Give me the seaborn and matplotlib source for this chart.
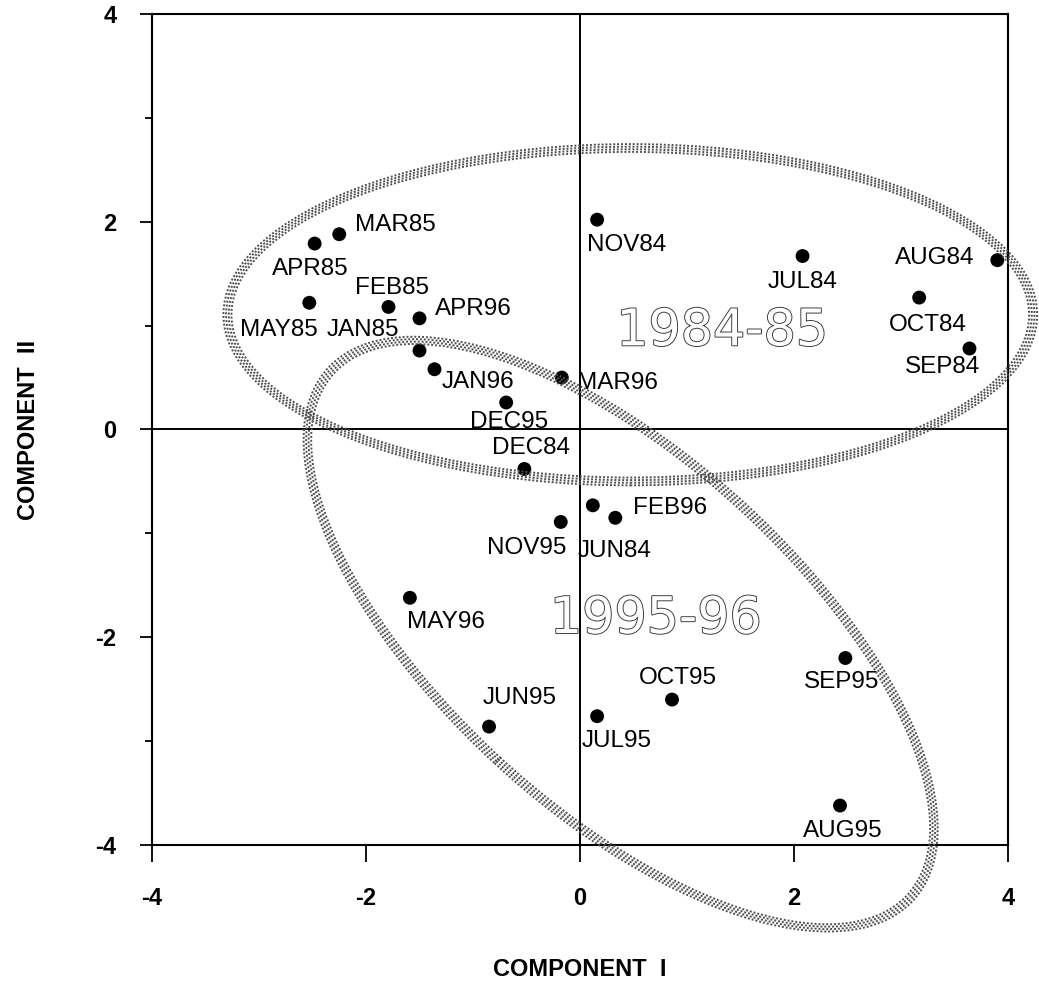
import matplotlib
matplotlib.use("Agg")
import matplotlib.pyplot as plt
import matplotlib.patheffects as pe
from matplotlib.patches import Ellipse
import seaborn as sns
import pandas as pd

# principal component scores by month
months = ["MAR85", "APR85", "FEB85", "MAY85", "JAN85", "APR96", "JAN96", "DEC95",
          "MAR96", "DEC84", "NOV84", "JUL84", "AUG84", "OCT84", "SEP84", "NOV95",
          "JUN84", "FEB96", "MAY96", "JUN95", "OCT95", "JUL95", "SEP95", "AUG95"]
comp1 = [-2.25, -2.48, -1.79, -2.53, -1.50, -1.50, -1.36, -0.69,
         -0.17, -0.52, 0.16, 2.08, 3.90, 3.17, 3.64, -0.18,
         0.12, 0.33, -1.59, -0.85, 0.86, 0.16, 2.48, 2.43]
comp2 = [1.88, 1.79, 1.18, 1.22, 0.76, 1.07, 0.58, 0.26,
         0.50, -0.38, 2.02, 1.67, 1.63, 1.27, 0.78, -0.89,
         -0.73, -0.85, -1.62, -2.86, -2.60, -2.76, -2.20, -3.62]

# label placement (pixels from the dot: left edge, baseline)
label_offsets = [(16, 3), (-43, -31), (-33, 13), (-69, -33), (-93, 15), (15, 3),
                 (7, -19), (-36, -26), (15, -11), (-32, 15), (-10, -31), (-35, -32),
                 (-102, -4), (-30, -33), (-65, -25), (-74, -32), (-15, -52), (18, 4),
                 (-3, -30), (-6, 23), (-33, 16), (-15, -31), (-41, -30), (-37, -31)]

sns.set_theme(style="ticks")
plt.rcParams['font.family'] = ['Liberation Sans', 'DejaVu Sans']
plt.rcParams['axes.unicode_minus'] = False

df = pd.DataFrame({"month": months, "c1": comp1, "c2": comp2})

fig = plt.figure(figsize=(10.39, 9.88), dpi=100)
ax = fig.add_axes([152 / 1039, 143 / 988, 856 / 1039, 831 / 988])

sns.scatterplot(data=df, x="c1", y="c2", color="black", s=100,
                edgecolor="none", ax=ax, zorder=3, clip_on=False, legend=False)

for m, x, y, (dx, dy) in zip(months, comp1, comp2, label_offsets):
    ax.annotate(m, (x, y), xytext=(dx, dy), textcoords="offset pixels",
                fontsize=17.5, ha="left", va="baseline", color="black", zorder=4)

ax.axhline(0, color="black", lw=1.4, zorder=2)
ax.axvline(0, color="black", lw=1.4, zorder=2)


# halftone-looking bands for the two groups
def band(cx, cy, w, h, ang):
    for k in (-1.5, -0.5, 0.5, 1.5):
        ax.add_patch(Ellipse((cx, cy), w + 0.05 * k, h + 0.05 * k, angle=ang,
                             fill=False, edgecolor="#505050", lw=1.4,
                             linestyle=(0, (1, 1)), clip_on=False, zorder=5))


band(0.47, 1.105, 7.53, 3.21, 0)
band(0.38, -1.97, 7.42, 3.35, -43.5)

outline = [pe.Stroke(linewidth=1.3, foreground="#333333"), pe.Normal()]
ax.text(1.33, 0.81, "1984-85", fontsize=36.5, family="DejaVu Sans", color="white",
        ha="center", va="baseline", path_effects=outline, zorder=4)
ax.text(0.71, -1.96, "1995-96", fontsize=36.5, family="DejaVu Sans", color="white",
        ha="center", va="baseline", path_effects=outline, zorder=4)

ax.set_xlim(-4, 4)
ax.set_ylim(-4, 4)
ax.set_xticks([-4, -2, 0, 2, 4])
ax.set_yticks([-4, -2, 0, 2, 4])
ax.set_yticks([-3, -1, 1, 3], minor=True)
ax.tick_params(axis="x", which="major", direction="out", length=12, width=1.3,
               pad=18, labelsize=17, colors="black")
ax.tick_params(axis="y", which="major", direction="out", length=8.5, width=1.3,
               pad=17, labelsize=17, colors="black")
ax.tick_params(axis="y", which="minor", direction="out", length=5, width=1.3,
               colors="black")
for lab in ax.get_xticklabels() + ax.get_yticklabels():
    lab.set_fontweight("bold")

for sp in ax.spines.values():
    sp.set_linewidth(1.5)
    sp.set_color("black")

ax.set_xlabel("COMPONENT  I", fontsize=17, fontweight="bold", labelpad=35,
              color="black")
ax.set_ylabel("COMPONENT  II", fontsize=17, fontweight="bold", labelpad=40,
              color="black")

fig.savefig("out.png", dpi=100)
